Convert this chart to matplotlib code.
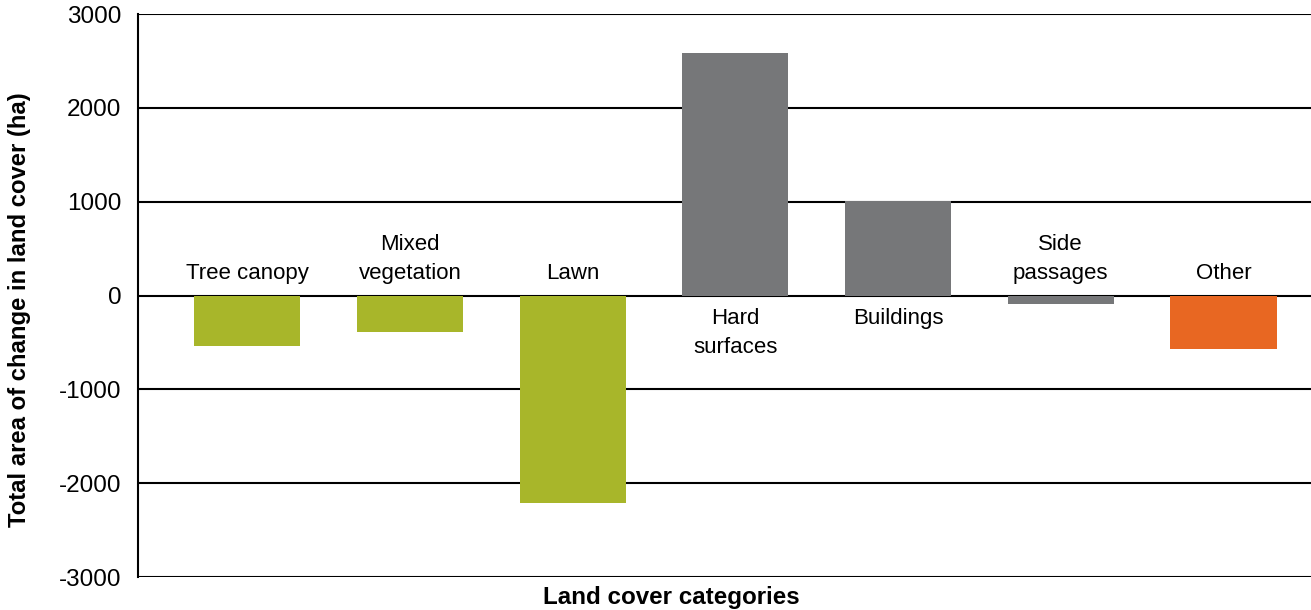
import matplotlib
matplotlib.use("Agg")
import matplotlib.pyplot as plt

plt.rcParams['font.family'] = ['Liberation Sans', 'DejaVu Sans']

categories = ["Tree canopy", "Mixed\nvegetation", "Lawn", "Hard\nsurfaces",
              "Buildings", "Side\npassages", "Other"]
values = [-540, -390, -2210, 2590, 1010, -95, -565]
colors = ["#a8b62a", "#a8b62a", "#a8b62a", "#767779", "#767779", "#767779", "#e86722"]
yticks = [-3000, -2000, -1000, 0, 1000, 2000, 3000]
yticklabels = ["-3000", "-2000", "-1000", "0", "1000", "2000", "3000"]

fig = plt.figure(figsize=(13.11, 6.10), dpi=100)
ax = fig.add_axes([0.1053, 0.054, 0.8947, 0.923])

xs = list(range(len(categories)))
ax.bar(xs, values, width=0.652, color=colors, zorder=3)

for y in yticks:
    ax.axhline(y, color='black', lw=1.5, zorder=1)

# labels sit above the baseline for losses and below it for gains
for x, v, lab in zip(xs, values, categories):
    if v < 0:
        ax.annotate(lab, (x, 0), xytext=(0, 12), textcoords='offset points',
                    ha='center', va='baseline', fontsize=16, linespacing=1.48)
    else:
        ax.annotate(lab, (x, 0), xytext=(0, -9), textcoords='offset points',
                    ha='center', va='top', fontsize=16, linespacing=1.48)

ax.set_xlim(-0.671, 6.538)
ax.set_ylim(-3000, 3000)
ax.set_yticks(yticks)
ax.set_yticklabels(yticklabels)
ax.tick_params(axis='y', labelsize=17.5, length=0, pad=12)
ax.set_xticks([])

for s in ['top', 'right', 'bottom']:
    ax.spines[s].set_visible(False)
ax.spines['left'].set_linewidth(1.5)

fig.text(20 / 1311, 0.492, "Total area of change in land cover (ha)", fontsize=17.2,
         fontweight='bold', rotation=90, ha='center', va='center')
fig.text(0.512, 0.0197, "Land cover categories", fontsize=17.4,
         fontweight='bold', ha='center', va='center')

fig.savefig("out.png", dpi=100)
